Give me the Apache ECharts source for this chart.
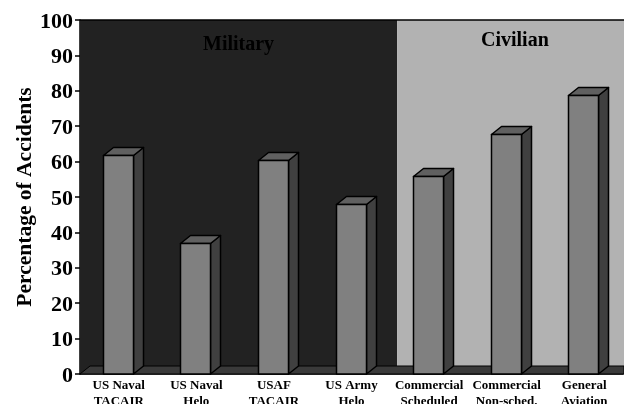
<!DOCTYPE html>
<html><head><meta charset="utf-8">
<style>html,body{margin:0;padding:0;background:#fff}#c{width:624px;height:404px}</style>
<script src="https://cdn.jsdelivr.net/npm/echarts@6/dist/echarts.min.js"></script>
</head><body><div id="c"></div>
<script>
const categories = ["US Naval\nTACAIR","US Naval\nHelo","USAF\nTACAIR","US Army\nHelo","Commercial\nScheduled","Commercial\nNon-sched.","General\nAviation"];
const values = [62, 37, 60.5, 48, 56, 67.7, 78.8];
const yTicks = {min:0, max:100, interval:10};
const regions = [["Military",0,4],["Civilian",4,7]];
const regionColors = {Military:"#222222", Civilian:"#b2b2b2"};
const DX = 10, DY = 8;
const FONT = '"Liberation Serif","DejaVu Serif",serif';
const chart = echarts.init(document.getElementById('c'), null, {renderer:'canvas'});

function wallItem(params, api){
  const band = api.size([1,0])[0];
  const a = api.coord([api.value(0),0])[0]-band/2;
  const b = api.coord([api.value(1)-1,0])[0]+band/2;
  const top = api.coord([0,100])[1], bot = api.coord([0,0])[1];
  const name = regions[params.dataIndex][0];
  const x0 = params.dataIndex===0 ? a : a+7;
  const x1 = params.dataIndex===0 ? b+7 : 624;
  return {type:'rect',shape:{x:x0,y:top,width:x1-x0,height:bot-top},style:{fill:regionColors[name]}};
}
function floorItem(params, api){
  const band = api.size([1,0])[0];
  const a = api.coord([0,0])[0]-band/2, b = 624;
  const bot = api.coord([0,0])[1];
  const top = api.coord([0,100])[1];
  return {type:'group',children:[
    {type:'polygon',shape:{points:[[a,bot],[a+DX,bot-DY],[b,bot-DY],[b,bot]]},style:{fill:'#3a3a3a',stroke:'#000',lineWidth:1}},
    {type:'line',shape:{x1:a,y1:top,x2:b,y2:top},style:{stroke:'#000',lineWidth:1.5}}
  ]};
}
function barItem(params, api){
  const c = api.coord([api.value(0),api.value(1)]);
  const bot = api.coord([api.value(0),0])[1];
  const w = 30, x = Math.round(c[0]-w/2)-0.5, y = Math.round(c[1])+0.5, b = bot;
  const s = {stroke:'#000',lineWidth:1.5,lineJoin:'round'};
  return {type:'group',children:[
    {type:'polygon',shape:{points:[[x+w,y],[x+w+DX,y-DY],[x+w+DX,b-DY],[x+w,b]]},style:Object.assign({fill:'#404040'},s)},
    {type:'polygon',shape:{points:[[x,y],[x+DX,y-DY],[x+w+DX,y-DY],[x+w,y]]},style:Object.assign({fill:'#606060'},s)},
    {type:'rect',shape:{x:x,y:y,width:w,height:b-y},style:Object.assign({fill:'#808080'},s)}
  ]};
}
chart.setOption({
  animation:false,
  backgroundColor:'#ffffff',
  grid:{left:80,right:1,top:20,bottom:30,containLabel:false,outerBoundsMode:'none'},
  xAxis:{type:'category',data:categories,
    axisLine:{show:true,lineStyle:{color:'#000',width:1.5}},axisTick:{show:false},
    axisLabel:{interval:0,color:'#000',fontFamily:FONT,fontWeight:'bold',fontSize:13,lineHeight:16,margin:4,verticalAlign:'top'}},
  yAxis:{type:'value',min:yTicks.min,max:yTicks.max,interval:yTicks.interval,
    name:'Percentage of Accidents',nameLocation:'middle',nameRotate:90,nameGap:44,nameMoveOverlap:false,
    nameTextStyle:{color:'#000',fontFamily:FONT,fontWeight:'bold',fontSize:21.5},
    axisLine:{show:true,lineStyle:{color:'#000',width:1.5}},
    axisTick:{show:true,length:5,lineStyle:{color:'#000',width:1.5}},
    splitLine:{show:false},
    axisLabel:{color:'#000',fontFamily:FONT,fontWeight:'bold',fontSize:22,margin:7,verticalAlign:'top',lineHeight:4}},
  graphic:[
    {type:'text',z:20,left:203,top:35,style:{text:regions[0][0],font:'bold 20px '+FONT,fill:'#000'}},
    {type:'text',z:20,left:481,top:31,style:{text:regions[1][0],font:'bold 20px '+FONT,fill:'#000'}}
  ],
  series:[
    {type:'custom',z:1,silent:true,clip:false,renderItem:wallItem,encode:{x:0,y:0},data:regions.map(r=>[r[1],r[2]])},
    {type:'custom',z:2,silent:true,clip:false,renderItem:floorItem,data:[[0,0]]},
    {type:'custom',z:3,clip:false,renderItem:barItem,encode:{x:0,y:1},data:values.map((v,i)=>[i,v])}
  ]
});
</script></body></html>
